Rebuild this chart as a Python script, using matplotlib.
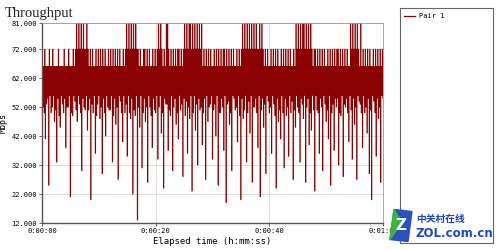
import numpy as np
import matplotlib
matplotlib.use('Agg')
import matplotlib.pyplot as plt
from matplotlib.ticker import FuncFormatter
from matplotlib.patches import Polygon

# throughput samples (Mbps), one every 0.1 s
throughput = [
    57, 66, 52, 66, 50, 72, 41, 66, 53, 66, 55, 66, 25, 72, 56, 66, 50, 66, 52, 72,
    56, 66, 47, 66, 51, 66, 33, 66, 55, 72, 49, 66, 45, 66, 56, 66, 53, 66, 50, 72,
    55, 66, 38, 66, 52, 66, 52, 72, 56, 66, 21, 66, 50, 66, 49, 72, 56, 66, 54, 72,
    51, 81, 47, 72, 56, 81, 53, 72, 50, 81, 30, 72, 55, 81, 52, 72, 51, 72, 56, 81,
    44, 72, 51, 66, 55, 72, 20, 66, 53, 72, 50, 66, 56, 66, 36, 72, 49, 66, 53, 72,
    56, 66, 48, 72, 52, 66, 29, 72, 55, 66, 50, 72, 42, 66, 56, 66, 52, 72, 51, 66,
    51, 72, 56, 66, 33, 72, 49, 66, 55, 72, 46, 66, 52, 72, 27, 66, 56, 72, 54, 66,
    50, 66, 40, 72, 56, 66, 50, 72, 53, 81, 35, 72, 56, 81, 50, 72, 48, 81, 55, 72,
    22, 81, 51, 72, 49, 81, 56, 72, 13, 72, 52, 66, 45, 72, 56, 66, 31, 66, 50, 72,
    55, 72, 47, 66, 52, 72, 26, 66, 56, 72, 52, 66, 49, 66, 38, 72, 55, 66, 51, 72,
    50, 66, 56, 72, 34, 81, 52, 72, 56, 81, 43, 72, 50, 66, 24, 72, 55, 66, 53, 81,
    53, 81, 37, 72, 51, 66, 49, 72, 56, 66, 30, 72, 52, 66, 55, 72, 46, 66, 50, 72,
    41, 72, 56, 66, 51, 72, 53, 66, 28, 72, 55, 81, 49, 72, 54, 81, 36, 72, 52, 81,
    48, 81, 56, 72, 23, 81, 50, 72, 56, 81, 44, 72, 53, 81, 32, 72, 55, 81, 51, 72,
    52, 81, 39, 66, 50, 72, 55, 66, 27, 72, 56, 66, 47, 72, 52, 66, 53, 72, 56, 66,
    34, 66, 51, 72, 53, 66, 42, 72, 56, 66, 25, 72, 50, 66, 50, 72, 55, 66, 52, 72,
    37, 72, 56, 66, 19, 72, 53, 66, 54, 72, 46, 66, 50, 72, 30, 66, 56, 72, 55, 66,
    51, 66, 52, 72, 40, 66, 56, 72, 49, 66, 20, 72, 55, 81, 48, 72, 51, 81, 56, 72,
    33, 81, 50, 72, 54, 81, 43, 72, 56, 81, 26, 72, 52, 81, 52, 72, 55, 81, 50, 72,
    38, 72, 56, 81, 21, 72, 51, 81, 55, 72, 45, 66, 53, 72, 29, 66, 56, 72, 54, 66,
    50, 66, 52, 72, 36, 66, 56, 72, 53, 66, 49, 72, 24, 66, 55, 72, 47, 66, 51, 66,
    41, 72, 56, 66, 50, 72, 31, 66, 55, 72, 49, 66, 52, 72, 35, 66, 56, 72, 50, 66,
    54, 66, 27, 72, 51, 66, 45, 81, 56, 72, 52, 81, 50, 72, 33, 81, 55, 72, 53, 81,
    48, 81, 56, 72, 26, 81, 52, 72, 55, 81, 39, 72, 50, 81, 44, 72, 56, 66, 51, 72,
    23, 72, 56, 66, 51, 72, 50, 66, 36, 72, 55, 66, 52, 72, 30, 66, 56, 72, 53, 66,
    47, 66, 51, 72, 41, 66, 56, 72, 25, 66, 50, 72, 53, 66, 37, 72, 55, 66, 52, 72,
    55, 72, 32, 66, 50, 72, 49, 66, 56, 72, 28, 66, 53, 72, 52, 66, 55, 72, 50, 66,
    40, 66, 56, 81, 51, 72, 34, 81, 55, 72, 46, 81, 52, 72, 27, 81, 56, 72, 54, 66,
    53, 81, 50, 66, 38, 72, 56, 66, 50, 72, 52, 66, 43, 72, 55, 66, 29, 72, 51, 66,
    20, 66, 56, 72, 54, 66, 50, 72, 35, 66, 55, 72, 48, 66, 52, 72, 26, 66, 56, 72,
    55,
]
sample_step = 0.1
y_ticks = [12, 22, 32, 42, 52, 62, 72, 81]
x_ticks = [0, 20, 40, 60]

elapsed = np.arange(len(throughput)) * sample_step


def hms(s, pos=None):
    s = int(round(s))
    return '%d:%02d:%02d' % (s // 3600, (s % 3600) // 60, s % 60)


fig = plt.figure(figsize=(5, 2.5), dpi=100)
fig.patch.set_facecolor('white')

ax = fig.add_axes([0.084, 0.108, 0.682, 0.80])
ax.plot(elapsed, throughput, color='#8b0000', linewidth=0.5, drawstyle='steps-mid')
ax.set_xlim(0, 60)
ax.set_ylim(12, 81)
ax.set_yticks(y_ticks)
ax.set_xticks(x_ticks)
ax.yaxis.set_major_formatter(FuncFormatter(lambda v, p: '%.3f' % v))
ax.xaxis.set_major_formatter(FuncFormatter(hms))
ax.tick_params(labelsize=5, length=2, width=0.6, color='#555555', pad=1.5)
for lab in ax.get_xticklabels() + ax.get_yticklabels():
    lab.set_family('DejaVu Sans Mono')
ax.grid(True, color='#d8d8d8', linewidth=0.6)
ax.set_axisbelow(True)
for side in ['top', 'right']:
    ax.spines[side].set_color('#999999')
    ax.spines[side].set_linewidth(0.6)
for side in ['left', 'bottom']:
    ax.spines[side].set_color('#555555')
    ax.spines[side].set_linewidth(1.0)

ax.set_xlabel('Elapsed time (h:mm:ss)', fontsize=6.5, family='DejaVu Sans Mono', labelpad=2)
ax.set_ylabel('Mbps', fontsize=6, family='DejaVu Sans Mono', labelpad=3)
fig.text(0.01, 0.932, 'Throughput', fontsize=10.5, family='Liberation Serif', color='#222222')

# legend panel
leg = fig.add_axes([0.80, 0.028, 0.186, 0.94])
leg.set_xticks([])
leg.set_yticks([])
for sp in leg.spines.values():
    sp.set_color('#666666')
    sp.set_linewidth(0.8)
leg.set_xlim(0, 1)
leg.set_ylim(0, 1)
leg.plot([0.04, 0.16], [0.967, 0.967], color='#8b0000', linewidth=0.9)
leg.text(0.2, 0.967, 'Pair 1', fontsize=5, family='DejaVu Sans Mono', va='center')

# watermark
wm = fig.add_axes([0.776, 0.03, 0.22, 0.14])
wm.set_xlim(0, 110)
wm.set_ylim(0, 35)
wm.axis('off')
wm.add_patch(Polygon([[2, 3], [20, 1], [24, 31], [6, 33]], closed=True, color='#2a4fc4'))
wm.add_patch(Polygon([[2, 3], [6, 33], [14, 20]], closed=True, color='#3db43d'))
wm.text(13, 17, 'Z', fontsize=11, fontweight='bold', color='white', ha='center', va='center')
wm.text(28, 24, '中关村在线', fontsize=7, fontweight='bold', color='#1e46c8',
        family=['Noto Sans CJK SC', 'DejaVu Sans'], va='center')
wm.text(28, 9, 'ZOL.com.cn', fontsize=8.5, fontweight='bold', color='#1e46c8',
        family='DejaVu Sans', va='center')

fig.savefig('out.png', dpi=100)
